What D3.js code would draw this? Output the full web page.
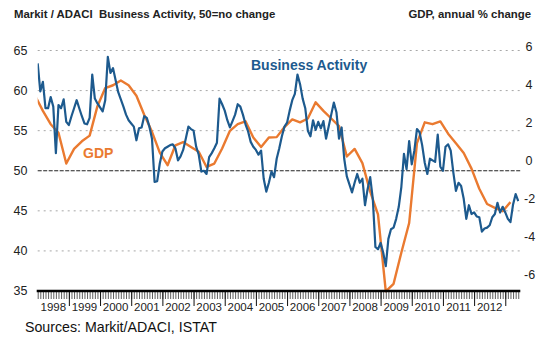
<!DOCTYPE html>
<html><head><meta charset="utf-8">
<script src="https://cdn.jsdelivr.net/npm/d3@7/dist/d3.min.js"></script>
<style>
body{margin:0;background:#fff;}
svg text{font-family:"Liberation Sans",Arial,sans-serif;}
</style></head>
<body><svg id="c" width="549" height="341"></svg>
<script>
// ---- data ----
const years = [1998,1999,2000,2001,2002,2003,2004,2005,2006,2007,2008,2009,2010,2011,2012];
// Markit/ADACI Business Activity, monthly from Jan 1998
const businessActivity = [
63.4,59.9,61.1,57.8,57.8,59.2,58.0,52.2,58.2,57.8,58.9,56.1,
55.7,56.8,57.8,58.8,57.8,56.8,55.9,55.8,56.6,62.0,59.0,58.4,
57.9,57.4,58.8,64.2,62.2,62.8,61.3,59.8,58.9,58.0,57.0,56.3,
55.9,55.5,53.8,55.3,55.4,56.8,56.6,55.5,54.0,48.6,48.7,50.9,
52.4,52.8,53.0,53.2,53.3,52.8,51.3,51.8,52.6,54.0,55.5,55.2,
55.0,53.0,52.0,49.9,50.0,49.6,51.7,52.2,52.8,53.5,59.0,58.3,
57.5,56.3,55.4,56.2,57.0,58.3,58.0,57.0,55.8,54.9,53.6,53.0,
52.6,52.0,52.5,49.0,47.4,48.5,49.9,49.2,51.5,52.8,54.3,55.5,
56.0,57.5,58.8,59.6,62.0,60.8,59.0,57.8,55.0,54.3,56.3,55.1,
56.1,55.3,56.2,54.0,55.5,57.0,58.5,57.3,54.0,55.4,51.5,49.3,
48.3,47.3,48.5,49.6,48.5,49.0,45.7,47.7,49.2,46.5,40.5,40.2,
41.0,39.8,38.1,41.5,42.7,42.9,44.0,45.5,48.0,52.1,50.2,53.7,
50.8,52.5,55.2,54.8,53.2,51.0,49.6,51.5,51.3,51.1,54.5,50.5,
50.0,53.0,53.3,52.5,49.8,47.5,48.5,48.1,46.5,44.0,45.7,44.6,
44.8,44.3,44.2,42.4,42.8,42.9,43.2,44.2,44.6,46.0,44.8,45.5,
44.8,44.0,43.6,45.8,47.1,46.2];
// GDP annual % change, quarterly from Q4 1997 (plotted at quarter-end month)
const gdpFirstMonth = -1;
const gdp = [
3.4,2.6,1.9,1.45,-0.17,0.6,1.0,1.3,2.85,3.8,3.95,4.2,3.95,3.4,2.4,1.5,
0.4,-0.26,0.79,0.96,0.7,0.45,-0.35,-0.17,0.62,1.55,1.9,2.05,1.2,0.7,1.2,1.22,
1.75,2.15,2.0,2.2,3.05,2.6,2.2,1.8,0.2,0.6,-0.15,-1.65,-2.85,-6.9,-6.5,-4.85,
-3.3,0.9,2.0,1.9,2.05,1.4,0.9,0.38,-0.44,-1.5,-2.3,-2.5,-2.68,-2.2];
const leftTicks = [35,40,45,50,55,60,65];
const rightTicks = [-6,-4,-2,0,2,4,6];

// ---- layout ----
const svg = d3.select("#c");
const X0 = 37.7, X1 = 519.3;
const x = d3.scaleLinear().domain([0, 185.4]).range([X0, X1]);
const y = d3.scaleLinear().domain([35, 65]).range([291, 50.5]);
const yR = d3.scaleLinear().domain([-6, 6]).range([274.3, 46.3]);
const blue = "#1d5a8e", orange = "#ea7a30";

svg.append("defs").append("clipPath").attr("id","clip")
  .append("rect").attr("x",X0).attr("y",40).attr("width",X1-X0).attr("height",260);

// gridlines
svg.append("g").selectAll("line").data(leftTicks.filter(d=>d>35)).join("line")
  .attr("x1",X0).attr("x2",X1+1).attr("y1",d=>y(d)).attr("y2",d=>y(d))
  .attr("stroke",d=>d===50?"#222":"#a8a8a8")
  .attr("stroke-width",1)
  .attr("stroke-dasharray",d=>d===50?"4,1.5":"2,4");

// left labels
svg.append("g").selectAll("text").data(leftTicks).join("text")
  .attr("x",27.5).attr("y",d=>y(d)).attr("dy","0.35em")
  .attr("text-anchor","end").attr("font-size",12.5).attr("fill","#222").text(d=>d);
// right labels
svg.append("g").selectAll("text").data(rightTicks).join("text")
  .attr("x",d=>d<0?524:525.5).attr("y",d=>yR(d)).attr("dy","0.35em")
  .attr("text-anchor","start").attr("font-size",12.5).attr("fill","#222").text(d=>d);

// lines
const gL = svg.append("g").attr("clip-path","url(#clip)");
gL.append("path").datum(gdp)
  .attr("fill","none").attr("stroke",orange).attr("stroke-width",2.4).attr("stroke-linejoin","round")
  .attr("d", d3.line().x((d,i)=>x(gdpFirstMonth+3*i)).y(d=>yR(d)));
gL.append("path").datum(businessActivity)
  .attr("fill","none").attr("stroke",blue).attr("stroke-width",2.2).attr("stroke-linejoin","round")
  .attr("d", d3.line().x((d,i)=>x(i)).y(d=>y(d)));

// x axis
const months = d3.range(0,186);
const axMinor = svg.append("g").attr("transform","translate(0,291)")
  .call(d3.axisBottom(x).tickValues(months).tickSize(8).tickFormat(""));
axMinor.selectAll(".tick line").attr("stroke","#333").attr("stroke-width",0.8);
axMinor.select(".domain").remove();
const axMajor = svg.append("g").attr("transform","translate(0,291)")
  .call(d3.axisBottom(x).tickValues(d3.range(12,181,12)).tickSize(15).tickFormat(""));
axMajor.selectAll(".tick line").attr("stroke","#111").attr("stroke-width",1);
axMajor.select(".domain").remove();
svg.append("line").attr("x1",X0-1).attr("x2",X1+1).attr("y1",291).attr("y2",291)
  .attr("stroke","#000").attr("stroke-width",2.5);

svg.append("g").selectAll("text").data(years).join("text")
  .attr("x",(d,i)=>x(i*12+6)).attr("y",310.5).attr("text-anchor","middle")
  .attr("font-size",11.5).attr("fill","#222").text(d=>d);

// titles
svg.append("text").attr("x",14).attr("y",18).attr("font-size",11.4).attr("font-weight","bold")
  .attr("fill","#222").attr("xml:space","preserve").style("white-space","pre")
  .text("Markit / ADACI  Business Activity, 50=no change");
svg.append("text").attr("x",531).attr("y",18).attr("font-size",11.4).attr("font-weight","bold")
  .attr("text-anchor","end").attr("fill","#222").text("GDP, annual % change");
svg.append("text").attr("x",251).attr("y",70).attr("font-size",14).attr("font-weight","bold")
  .attr("fill",blue).text("Business Activity");
svg.append("text").attr("x",83).attr("y",158).attr("font-size",14).attr("font-weight","bold")
  .attr("fill",orange).text("GDP");
svg.append("text").attr("x",25).attr("y",331.5).attr("font-size",14.2)
  .attr("fill","#111").text("Sources: Markit/ADACI, ISTAT");
</script></body></html>
